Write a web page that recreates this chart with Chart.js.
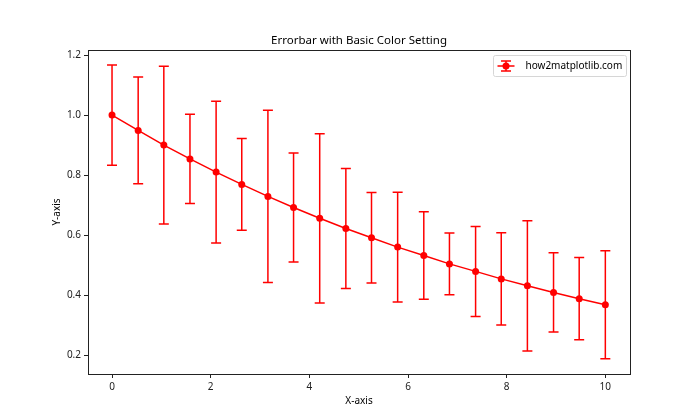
<!DOCTYPE html>
<html>
<head>
<meta charset="utf-8">
<script src="https://cdn.jsdelivr.net/npm/chart.js@4/dist/chart.umd.min.js"></script>
<style>
  html, body { margin: 0; padding: 0; background: #fff; }
  #wrap { width: 700px; height: 420px; }
</style>
</head>
<body>
<div id="wrap"><canvas id="errChart" width="700" height="420"></canvas></div>
<script>
// values
const xValues = [0, 0.53, 1.05, 1.58, 2.11, 2.63, 3.16, 3.68, 4.21, 4.74,
                 5.26, 5.79, 6.32, 6.84, 7.37, 7.89, 8.42, 8.95, 9.47, 10];
const yValues = [1.0, 0.949, 0.900, 0.854, 0.810, 0.769, 0.729, 0.692, 0.656, 0.622,
                 0.591, 0.560, 0.532, 0.504, 0.479, 0.454, 0.431, 0.409, 0.388, 0.368];
const yErrors = [0.167, 0.178, 0.263, 0.149, 0.236, 0.153, 0.287, 0.182, 0.282, 0.200,
                 0.151, 0.183, 0.146, 0.103, 0.150, 0.154, 0.217, 0.132, 0.137, 0.180];
const xTicks = [0, 2, 4, 6, 8, 10];
const yTicks = [0.2, 0.4, 0.6, 0.8, 1.0, 1.2];
const seriesLabel = 'how2matplotlib.com';
const chartTitle = 'Errorbar with Basic Color Setting';

const RED = '#ff0000';
const FONT = '"Noto Sans", "DejaVu Sans", sans-serif';

const points = xValues.map((x, i) => ({ x: x, y: yValues[i] }));

// error bars with caps, drawn through the chart scales
const errorBars = {
  id: 'errorBars',
  afterDatasetsDraw(chart) {
    const xs = chart.scales.x, ys = chart.scales.y;
    const ctx = chart.ctx;
    ctx.save();
    ctx.strokeStyle = RED;
    ctx.lineWidth = 1.5;
    xValues.forEach((x, i) => {
      const px = xs.getPixelForValue(x);
      const top = ys.getPixelForValue(yValues[i] + yErrors[i]);
      const bot = ys.getPixelForValue(yValues[i] - yErrors[i]);
      ctx.beginPath();
      ctx.moveTo(px, top); ctx.lineTo(px, bot);
      ctx.moveTo(px - 5, top); ctx.lineTo(px + 5, top);
      ctx.moveTo(px - 5, bot); ctx.lineTo(px + 5, bot);
      ctx.stroke();
    });
    ctx.restore();
  }
};

// frame, title centred on the axes, and a matplotlib style legend box
const frameAndLegend = {
  id: 'frameAndLegend',
  afterDraw(chart) {
    const a = chart.chartArea;
    const ctx = chart.ctx;
    ctx.save();
    ctx.strokeStyle = '#222';
    ctx.lineWidth = 1;
    ctx.strokeRect(Math.round(a.left) + 0.5, Math.round(a.top) + 0.5,
                   Math.round(a.right - a.left), Math.round(a.bottom - a.top));

    ctx.fillStyle = '#000';
    ctx.font = '11.5px ' + FONT;
    ctx.textAlign = 'center';
    ctx.textBaseline = 'middle';
    ctx.fillText(chartTitle, (a.left + a.right) / 2, a.top - 9);

    // legend
    const bx = a.right - 136.5, by = a.top + 5.5, bw = 133, bh = 21;
    ctx.beginPath();
    ctx.roundRect(bx, by, bw, bh, 2);
    ctx.fillStyle = 'rgba(255,255,255,0.8)';
    ctx.fill();
    ctx.strokeStyle = '#d6d6d6';
    ctx.stroke();

    const cy = by + bh / 2;
    const hx = bx + 12.5;
    ctx.strokeStyle = RED;
    ctx.lineWidth = 1.5;
    ctx.beginPath();
    ctx.moveTo(bx + 4, cy); ctx.lineTo(bx + 21, cy);
    ctx.moveTo(hx, cy - 5); ctx.lineTo(hx, cy + 5);
    ctx.moveTo(hx - 5, cy - 5); ctx.lineTo(hx + 5, cy - 5);
    ctx.moveTo(hx - 5, cy + 5); ctx.lineTo(hx + 5, cy + 5);
    ctx.stroke();
    ctx.fillStyle = RED;
    ctx.beginPath();
    ctx.arc(hx, cy, 3.5, 0, Math.PI * 2);
    ctx.fill();

    ctx.fillStyle = '#000';
    ctx.font = '10px ' + FONT;
    ctx.textAlign = 'left';
    ctx.fillText(seriesLabel, bx + 32, cy);
    ctx.restore();
  }
};

new Chart(document.getElementById('errChart'), {
  type: 'scatter',
  data: {
    datasets: [{
      label: seriesLabel,
      data: points,
      showLine: true,
      borderColor: RED,
      backgroundColor: RED,
      borderWidth: 1.5,
      pointRadius: 3.5,
      pointHoverRadius: 3.5,
      pointBorderWidth: 0
    }]
  },
  options: {
    responsive: false,
    animation: false,
    events: [],
    layout: { padding: { left: 0, right: 70, top: 50, bottom: 0 } },
    plugins: {
      legend: { display: false },
      tooltip: { enabled: false },
      title: { display: false }
    },
    scales: {
      x: {
        type: 'linear',
        min: -0.487,
        max: 10.5,
        afterBuildTicks: s => { s.ticks = xTicks.map(v => ({ value: v })); },
        afterFit: s => { s.height = 46; },
        grid: { drawOnChartArea: false, drawTicks: true, tickLength: 4, color: '#222' },
        border: { display: false },
        ticks: { color: '#222', padding: 3, font: { family: FONT, size: 10 }, maxRotation: 0 },
        title: { display: true, text: 'X-axis', color: '#000', padding: 13,
                 font: { family: FONT, size: 10 } }
      },
      y: {
        type: 'linear',
        min: 0.137,
        max: 1.217,
        afterBuildTicks: s => { s.ticks = yTicks.map(v => ({ value: v })); },
        afterFit: s => { s.width = 88; },
        grid: { drawOnChartArea: false, drawTicks: true, tickLength: 4, color: '#222' },
        border: { display: false },
        ticks: { color: '#222', padding: 3, font: { family: FONT, size: 10 },
                 callback: v => v.toFixed(1) },
        title: { display: true, text: 'Y-axis', color: '#000', padding: 51,
                 font: { family: FONT, size: 10 } }
      }
    }
  },
  plugins: [errorBars, frameAndLegend]
});
</script>
</body>
</html>
